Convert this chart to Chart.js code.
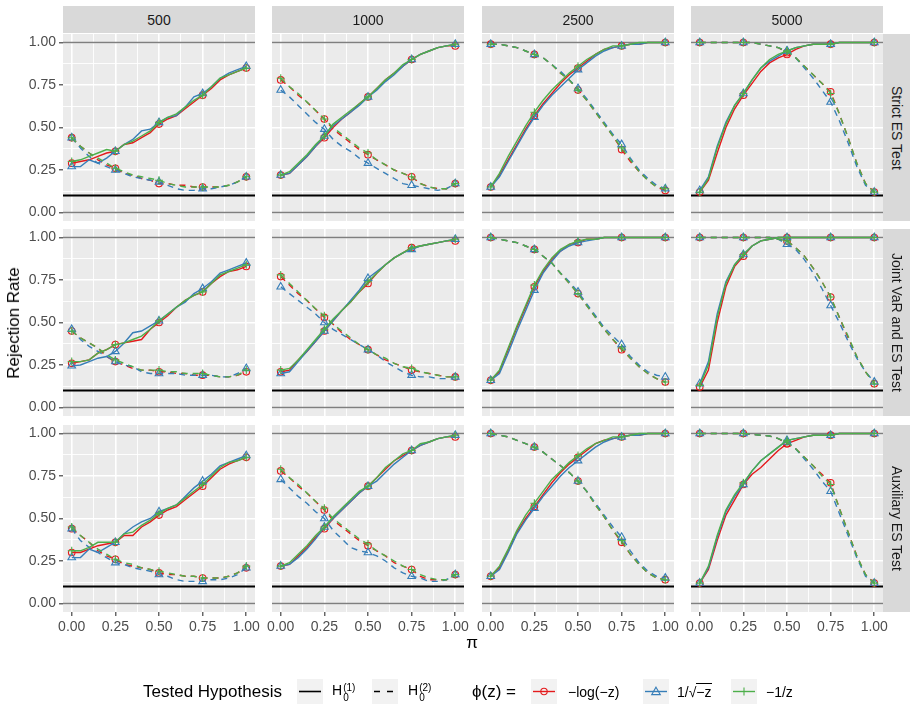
<!DOCTYPE html>
<html>
<head>
<meta charset="utf-8">
<script src="https://cdn.jsdelivr.net/npm/chart.js@4.4.1/dist/chart.umd.min.js"></script>
<style>
  body { margin: 0; background: #fff; font-family: "Liberation Sans", Arial, sans-serif; }
  #fig { position: relative; width: 916px; height: 710px; overflow: hidden; }
  #fig canvas { position: absolute; left: 0; top: 0; }
  .strip { position: absolute; background: #d9d9d9; color: #1a1a1a; font-size: 14px;
           display: flex; align-items: center; justify-content: center; }
  .vstrip { writing-mode: vertical-rl; }
  .lbl { position: absolute; white-space: nowrap; transform: translateY(-50%); }
  .key { position: absolute; top: 679px; width: 26px; height: 25px; background: #f2f2f2; }
  .ss { display: inline-flex; flex-direction: column; font-size: 10px; line-height: 10px;
        vertical-align: 4px; margin-left: 1px; }
</style>
</head>
<body>
<div id="fig"></div>
<script>
// pi grid of the simulation, markers only every 0.25
const piGrid = [0, 0.05, 0.1, 0.15, 0.2, 0.25, 0.3, 0.35, 0.4, 0.45, 0.5, 0.55, 0.6, 0.65, 0.7, 0.75, 0.8, 0.85, 0.9, 0.95, 1];
const markerPi = [0, 0.25, 0.5, 0.75, 1];
const gridTicks = [0, 0.125, 0.25, 0.375, 0.5, 0.625, 0.75, 0.875, 1];
const refLines = [0, 1];
const nominalLevel = [0.1];

const sampleSizes = ['500', '1000', '2500', '5000'];
const testNames = ['Strict ES Test', 'Joint VaR and ES Test', 'Auxiliary ES Test'];

// ---- Strict ES Test
const s500_h1_log  = [.29,.30,.31,.33,.35,.36,.40,.41,.44,.47,.52,.55,.57,.61,.65,.69,.73,.78,.81,.83,.85];
const s500_h1_sqrt = [.27,.27,.31,.29,.32,.36,.40,.43,.48,.49,.53,.56,.57,.62,.68,.70,.74,.79,.82,.84,.86];
const s500_h1_inv  = [.30,.31,.33,.35,.37,.36,.40,.42,.45,.48,.53,.56,.58,.62,.66,.69,.74,.79,.81,.83,.85];
const s500_h2_log  = [.44,.39,.35,.31,.28,.26,.23,.22,.20,.19,.17,.17,.16,.16,.15,.15,.15,.15,.16,.18,.21];
const s500_h2_sqrt = [.44,.38,.33,.29,.27,.25,.23,.21,.20,.19,.18,.16,.14,.13,.13,.14,.14,.15,.16,.18,.21];
const s500_h2_inv  = [.44,.39,.35,.32,.29,.26,.24,.22,.21,.20,.19,.17,.16,.15,.15,.15,.15,.15,.16,.18,.21];

const s1000_h1_log  = [.22,.23,.28,.33,.39,.44,.50,.55,.59,.64,.68,.73,.78,.82,.86,.90,.93,.95,.97,.98,.98];
const s1000_h1_sqrt = [.22,.23,.28,.33,.39,.45,.51,.55,.59,.63,.68,.72,.77,.81,.86,.90,.93,.95,.97,.98,.99];
const s1000_h1_inv  = [.22,.24,.29,.34,.40,.45,.52,.56,.60,.64,.68,.73,.78,.82,.87,.90,.93,.95,.97,.98,.99];
const s1000_h2_log  = [.78,.74,.69,.65,.60,.55,.49,.45,.41,.37,.34,.31,.28,.25,.23,.21,.17,.15,.14,.14,.17];
const s1000_h2_sqrt = [.72,.68,.63,.58,.53,.49,.43,.39,.36,.32,.29,.26,.23,.20,.17,.16,.15,.14,.13,.14,.17];
const s1000_h2_inv  = [.79,.74,.70,.65,.60,.55,.50,.46,.42,.38,.35,.31,.28,.25,.23,.21,.17,.15,.14,.14,.17];

const s2500_h1_log  = [.15,.22,.31,.40,.49,.57,.64,.70,.76,.81,.85,.89,.93,.96,.97,.98,.99,.99,1,1,1];
const s2500_h1_sqrt = [.15,.21,.30,.39,.48,.56,.63,.69,.74,.79,.84,.88,.92,.95,.97,.98,.99,.99,1,1,1];
const s2500_h1_inv  = [.15,.23,.33,.42,.51,.59,.66,.72,.77,.82,.86,.90,.93,.96,.98,.98,.99,1,1,1,1];
const s2500_h2_log  = [.99,.99,.98,.97,.95,.93,.91,.87,.82,.78,.72,.66,.59,.52,.45,.37,.30,.24,.19,.15,.13];
const s2500_h2_sqrt = [.99,.99,.98,.97,.95,.93,.91,.87,.83,.78,.73,.67,.60,.53,.46,.40,.32,.25,.20,.16,.14];
const s2500_h2_inv  = [.99,.99,.98,.97,.95,.93,.91,.87,.82,.78,.72,.66,.59,.52,.45,.38,.31,.24,.19,.15,.14];

const s5000_h1_log  = [.12,.19,.35,.50,.61,.69,.76,.83,.88,.91,.93,.96,.98,.99,.99,.99,1,1,1,1,1];
const s5000_h1_sqrt = [.13,.21,.39,.53,.63,.70,.78,.85,.89,.92,.95,.97,.98,.99,.99,.99,1,1,1,1,1];
const s5000_h1_inv  = [.12,.20,.38,.52,.63,.70,.78,.85,.90,.93,.95,.97,.98,.99,.99,.99,1,1,1,1,1];
const s5000_h2_log  = [1,1,1,1,1,1,1,.99,.98,.97,.94,.91,.86,.81,.76,.71,.58,.44,.29,.17,.12];
const s5000_h2_sqrt = [1,1,1,1,1,1,1,.99,.98,.97,.95,.91,.85,.79,.72,.65,.54,.41,.27,.16,.12];
const s5000_h2_inv  = [1,1,1,1,1,1,1,.99,.98,.97,.95,.91,.86,.81,.76,.70,.58,.44,.29,.17,.12];

// ---- Joint VaR and ES Test
const j500_h1_log  = [.26,.27,.28,.32,.34,.37,.38,.39,.40,.46,.50,.54,.59,.63,.66,.68,.73,.77,.80,.81,.83];
const j500_h1_sqrt = [.245,.25,.27,.29,.30,.33,.38,.44,.45,.48,.51,.55,.59,.62,.67,.70,.74,.79,.81,.83,.85];
const j500_h1_inv  = [.27,.27,.28,.32,.34,.37,.38,.40,.42,.46,.51,.55,.59,.63,.66,.68,.73,.78,.80,.82,.84];
const j500_h2_log  = [.45,.41,.38,.35,.30,.27,.25,.23,.22,.22,.21,.21,.20,.20,.19,.19,.19,.18,.18,.19,.21];
const j500_h2_sqrt = [.46,.40,.36,.33,.30,.27,.25,.24,.21,.20,.20,.20,.20,.19,.19,.19,.19,.18,.18,.20,.23];
const j500_h2_inv  = [.45,.41,.38,.35,.31,.28,.26,.24,.22,.22,.22,.21,.21,.20,.20,.20,.19,.18,.18,.19,.22];

const j1000_h1_log  = [.21,.22,.28,.33,.39,.45,.51,.57,.62,.68,.73,.79,.84,.88,.91,.94,.95,.96,.97,.98,.98];
const j1000_h1_sqrt = [.20,.21,.27,.33,.39,.45,.51,.57,.63,.69,.76,.80,.84,.88,.91,.93,.95,.96,.97,.98,.99];
const j1000_h1_inv  = [.22,.23,.28,.34,.40,.46,.52,.57,.62,.68,.74,.79,.84,.88,.91,.94,.95,.96,.97,.98,.99];
const j1000_h2_log  = [.77,.72,.67,.63,.58,.53,.49,.44,.40,.37,.34,.31,.28,.26,.24,.22,.21,.20,.19,.18,.18];
const j1000_h2_sqrt = [.71,.67,.63,.59,.55,.50,.46,.43,.40,.37,.34,.31,.27,.24,.21,.19,.18,.18,.17,.17,.18];
const j1000_h2_inv  = [.78,.73,.68,.63,.58,.54,.49,.45,.41,.37,.34,.31,.29,.26,.24,.23,.21,.20,.19,.18,.18];

const j2500_h1_log  = [.16,.21,.34,.47,.59,.71,.80,.87,.92,.96,.97,.99,.99,1,1,1,1,1,1,1,1];
const j2500_h1_sqrt = [.16,.20,.32,.45,.57,.69,.79,.86,.92,.95,.97,.98,.99,1,1,1,1,1,1,1,1];
const j2500_h1_inv  = [.16,.22,.35,.48,.60,.72,.81,.88,.93,.96,.98,.99,.99,1,1,1,1,1,1,1,1];
const j2500_h2_log  = [1,.99,.98,.97,.95,.93,.89,.85,.79,.73,.67,.60,.53,.46,.40,.34,.29,.24,.20,.17,.15];
const j2500_h2_sqrt = [1,.99,.98,.97,.95,.93,.89,.85,.79,.74,.68,.61,.54,.47,.42,.37,.30,.25,.21,.19,.18];
const j2500_h2_inv  = [1,.99,.98,.97,.95,.93,.89,.85,.79,.73,.67,.60,.53,.46,.40,.35,.29,.24,.20,.17,.15];

const j5000_h1_log  = [.12,.22,.50,.71,.83,.89,.95,.98,.99,1,1,1,1,1,1,1,1,1,1,1,1];
const j5000_h1_sqrt = [.14,.27,.55,.74,.84,.90,.95,.98,.99,1,1,1,1,1,1,1,1,1,1,1,1];
const j5000_h1_inv  = [.13,.25,.53,.73,.84,.90,.95,.98,.99,1,1,1,1,1,1,1,1,1,1,1,1];
const j5000_h2_log  = [1,1,1,1,1,1,1,1,1,.99,.98,.94,.89,.82,.74,.65,.53,.41,.30,.21,.14];
const j5000_h2_sqrt = [1,1,1,1,1,1,1,1,1,.99,.96,.93,.87,.79,.70,.60,.50,.39,.29,.21,.15];
const j5000_h2_inv  = [1,1,1,1,1,1,1,1,1,.99,.98,.94,.89,.82,.74,.65,.53,.42,.30,.21,.14];

// ---- Auxiliary ES Test
const a500_h1_log  = [.30,.30,.32,.34,.35,.36,.40,.40,.45,.48,.52,.55,.57,.61,.65,.69,.74,.79,.82,.84,.86];
const a500_h1_sqrt = [.27,.27,.32,.30,.33,.36,.41,.45,.48,.50,.54,.56,.58,.63,.68,.72,.76,.81,.83,.85,.87];
const a500_h1_inv  = [.31,.31,.33,.36,.36,.36,.41,.42,.46,.49,.53,.56,.58,.62,.66,.70,.75,.80,.83,.84,.86];
const a500_h2_log  = [.44,.40,.36,.31,.28,.26,.23,.22,.21,.20,.18,.17,.17,.16,.16,.15,.15,.15,.16,.18,.21];
const a500_h2_sqrt = [.44,.37,.33,.30,.27,.24,.23,.21,.20,.19,.17,.16,.14,.13,.13,.13,.14,.14,.15,.17,.21];
const a500_h2_inv  = [.45,.40,.36,.32,.29,.26,.24,.23,.21,.20,.19,.18,.17,.16,.16,.15,.15,.15,.16,.18,.22];

const a1000_h1_log  = [.22,.23,.28,.33,.39,.44,.50,.55,.60,.65,.69,.74,.79,.84,.87,.90,.93,.95,.97,.98,.98];
const a1000_h1_sqrt = [.22,.23,.27,.32,.38,.45,.50,.55,.60,.65,.69,.72,.77,.82,.86,.90,.93,.95,.97,.98,.99];
const a1000_h1_inv  = [.22,.24,.29,.34,.40,.45,.51,.56,.61,.66,.69,.74,.80,.84,.88,.90,.94,.95,.97,.98,.99];
const a1000_h2_log  = [.78,.74,.69,.65,.60,.55,.49,.45,.41,.37,.34,.31,.28,.24,.22,.20,.16,.14,.14,.14,.17];
const a1000_h2_sqrt = [.73,.68,.63,.59,.54,.50,.43,.38,.33,.31,.30,.28,.25,.21,.18,.16,.15,.13,.13,.14,.17];
const a1000_h2_inv  = [.79,.74,.70,.65,.60,.56,.50,.46,.42,.38,.35,.31,.28,.25,.22,.20,.17,.15,.14,.14,.17];

const a2500_h1_log  = [.16,.21,.31,.42,.50,.57,.64,.71,.77,.82,.86,.90,.94,.96,.97,.98,.99,.99,1,1,1];
const a2500_h1_sqrt = [.16,.20,.30,.41,.49,.56,.63,.69,.75,.80,.84,.88,.92,.95,.97,.98,.99,.99,1,1,1];
const a2500_h1_inv  = [.16,.22,.32,.43,.52,.59,.66,.73,.78,.83,.87,.91,.94,.96,.98,.98,.99,1,1,1,1];
const a2500_h2_log  = [1,.99,.98,.96,.94,.92,.89,.85,.81,.77,.72,.66,.58,.51,.43,.36,.29,.23,.18,.15,.14];
const a2500_h2_sqrt = [1,.99,.98,.96,.94,.92,.89,.85,.81,.77,.72,.66,.59,.52,.45,.39,.31,.24,.19,.16,.15];
const a2500_h2_inv  = [1,.99,.98,.96,.94,.92,.89,.85,.81,.77,.72,.66,.58,.51,.43,.37,.29,.23,.18,.15,.14];

const a5000_h1_log  = [.12,.20,.37,.52,.61,.70,.76,.80,.85,.90,.94,.96,.98,.99,.99,.99,1,1,1,1,1];
const a5000_h1_sqrt = [.12,.21,.39,.54,.63,.70,.78,.84,.88,.92,.96,.97,.98,.99,.99,.99,1,1,1,1,1];
const a5000_h1_inv  = [.12,.22,.40,.55,.64,.71,.78,.84,.88,.92,.96,.97,.98,.99,.99,.99,1,1,1,1,1];
const a5000_h2_log  = [1,1,1,1,1,1,.995,.99,.985,.97,.94,.91,.86,.81,.76,.71,.56,.42,.28,.17,.12];
const a5000_h2_sqrt = [1,1,1,1,1,1,.995,.99,.985,.97,.95,.91,.85,.79,.72,.66,.53,.40,.27,.16,.12];
const a5000_h2_inv  = [1,1,1,1,1,1,.995,.99,.985,.97,.95,.91,.86,.81,.75,.70,.56,.42,.28,.17,.12];

// rows = tests, cols = sample size
const panelSeries = [
  [
    {h1: [s500_h1_log, s500_h1_sqrt, s500_h1_inv], h2: [s500_h2_log, s500_h2_sqrt, s500_h2_inv]},
    {h1: [s1000_h1_log, s1000_h1_sqrt, s1000_h1_inv], h2: [s1000_h2_log, s1000_h2_sqrt, s1000_h2_inv]},
    {h1: [s2500_h1_log, s2500_h1_sqrt, s2500_h1_inv], h2: [s2500_h2_log, s2500_h2_sqrt, s2500_h2_inv]},
    {h1: [s5000_h1_log, s5000_h1_sqrt, s5000_h1_inv], h2: [s5000_h2_log, s5000_h2_sqrt, s5000_h2_inv]}
  ],
  [
    {h1: [j500_h1_log, j500_h1_sqrt, j500_h1_inv], h2: [j500_h2_log, j500_h2_sqrt, j500_h2_inv]},
    {h1: [j1000_h1_log, j1000_h1_sqrt, j1000_h1_inv], h2: [j1000_h2_log, j1000_h2_sqrt, j1000_h2_inv]},
    {h1: [j2500_h1_log, j2500_h1_sqrt, j2500_h1_inv], h2: [j2500_h2_log, j2500_h2_sqrt, j2500_h2_inv]},
    {h1: [j5000_h1_log, j5000_h1_sqrt, j5000_h1_inv], h2: [j5000_h2_log, j5000_h2_sqrt, j5000_h2_inv]}
  ],
  [
    {h1: [a500_h1_log, a500_h1_sqrt, a500_h1_inv], h2: [a500_h2_log, a500_h2_sqrt, a500_h2_inv]},
    {h1: [a1000_h1_log, a1000_h1_sqrt, a1000_h1_inv], h2: [a1000_h2_log, a1000_h2_sqrt, a1000_h2_inv]},
    {h1: [a2500_h1_log, a2500_h1_sqrt, a2500_h1_inv], h2: [a2500_h2_log, a2500_h2_sqrt, a2500_h2_inv]},
    {h1: [a5000_h1_log, a5000_h1_sqrt, a5000_h1_inv], h2: [a5000_h2_log, a5000_h2_sqrt, a5000_h2_inv]}
  ]
];

// styling
const phiColors = ['#E41A1C', '#377EB8', '#4DAF4A'];
const phiShapes = ['circle', 'triangle', 'cross'];
const phiRadius = [3.3, 4.4, 4];
const FONT = '"Liberation Sans", Arial, sans-serif';
const W = 916, H = 710;
const colX = [63, 272, 482, 691];
const rowY = [34, 229, 425];
const panelW = 192, panelH = 187;
const yAxisW = 60, xAxisH = 30;   // room kept for tick labels on outer panels

const fig = document.getElementById('fig');

const isMajor = v => Math.abs(v * 4 - Math.round(v * 4)) < 1e-6;

const panelBg = {
  id: 'panelBg',
  beforeDraw(chart) {
    const a = chart.chartArea;
    const ctx = chart.ctx;
    ctx.save();
    ctx.fillStyle = '#ebebeb';
    ctx.fillRect(a.left, a.top, a.right - a.left, a.bottom - a.top);
    ctx.restore();
  }
};

function axis(showLabels) {
  return {
    type: 'linear',
    min: -0.05,
    max: 1.05,
    bounds: 'data',
    afterBuildTicks: s => { s.ticks = gridTicks.map(v => ({value: v})); },
    grid: {
      color: '#ffffff',
      lineWidth: ctx => (ctx.tick && isMajor(ctx.tick.value)) ? 1.6 : 0.9,
      drawTicks: true,
      tickLength: 4,
      tickWidth: 1.1,
      tickColor: ctx => (showLabels && ctx.tick && isMajor(ctx.tick.value)) ? '#333333' : 'rgba(0,0,0,0)'
    },
    border: {display: false},
    ticks: {
      display: showLabels,
      autoSkip: false,
      maxRotation: 0,
      padding: 3,
      color: '#4d4d4d',
      font: {family: FONT, size: 14},
      callback: v => isMajor(v) ? v.toFixed(2) : ''
    }
  };
}

function hline(y, color, width, order) {
  return {
    data: [{x: -0.05, y: y}, {x: 1.05, y: y}],
    borderColor: color,
    borderWidth: width,
    pointRadius: 0,
    order: order
  };
}

for (let r = 0; r < testNames.length; r++) {
  for (let c = 0; c < sampleSizes.length; c++) {
    const canvas = document.createElement('canvas');
    canvas.width = W;
    canvas.height = H;
    fig.appendChild(canvas);

    const datasets = [];
    refLines.forEach(v => datasets.push(hline(v, '#7f7f7f', 1.5, 20)));
    nominalLevel.forEach(v => datasets.push(hline(v, '#000000', 1.8, 19)));

    const ser = panelSeries[r][c];
    ['h1', 'h2'].forEach(h => {
      ser[h].forEach((vals, k) => {
        datasets.push({
          data: piGrid.map((p, i) => ({x: p, y: vals[i]})),
          borderColor: phiColors[k],
          borderWidth: 1.4,
          borderDash: h === 'h2' ? [6, 5] : [],
          tension: 0,
          pointStyle: phiShapes[k],
          pointRadius: ctx => markerPi.includes(piGrid[ctx.dataIndex]) ? phiRadius[k] : 0,
          pointBorderColor: phiColors[k],
          pointBackgroundColor: 'rgba(0,0,0,0)',
          pointBorderWidth: 1.1,
          order: 3 - k
        });
      });
    });

    const showX = r === testNames.length - 1;
    const showY = c === 0;
    const xh = showX ? xAxisH : 0;
    const yw = showY ? yAxisW : 0;
    const xAxis = axis(showX);
    xAxis.afterFit = s => { s.height = xh; s.paddingLeft = 0; s.paddingRight = 0; s.paddingTop = 0; s.paddingBottom = 0; };
    const yAxis = axis(showY);
    yAxis.afterFit = s => { s.width = yw; s.paddingLeft = 0; s.paddingRight = 0; s.paddingTop = 0; s.paddingBottom = 0; };

    new Chart(canvas, {
      type: 'line',
      data: {datasets: datasets},
      options: {
        responsive: false,
        animation: false,
        events: [],
        layout: {padding: {
          left: colX[c] - yw,
          top: rowY[r],
          right: W - colX[c] - panelW,
          bottom: H - rowY[r] - panelH - xh
        }},
        plugins: {legend: {display: false}, tooltip: {enabled: false}},
        scales: {x: xAxis, y: yAxis}
      },
      plugins: [panelBg]
    });
  }
}

// facet strips
sampleSizes.forEach((s, c) => {
  const d = document.createElement('div');
  d.className = 'strip';
  d.style.cssText = `left:${colX[c]}px;top:6px;width:${panelW}px;height:27px;`;
  d.textContent = s;
  fig.appendChild(d);
});
testNames.forEach((t, r) => {
  const d = document.createElement('div');
  d.className = 'strip vstrip';
  d.style.cssText = `left:883px;top:${rowY[r]}px;width:27px;height:${panelH}px;`;
  d.textContent = t;
  fig.appendChild(d);
});

// axis titles + legend
fig.insertAdjacentHTML('beforeend', `
  <div style="position:absolute;left:14px;top:323px;transform:translate(-50%,-50%) rotate(-90deg);font-size:17px;color:#000;white-space:nowrap;">Rejection Rate</div>
  <div style="position:absolute;left:472px;top:643px;transform:translate(-50%,-50%);font-size:17px;color:#000;">π</div>

  <div class="lbl" style="left:143px;top:692px;font-size:17px;">Tested Hypothesis</div>
  <div class="key" style="left:297px;"><svg width="26" height="25"><line x1="2" y1="12.5" x2="24" y2="12.5" stroke="#000" stroke-width="1.6"/></svg></div>
  <div class="lbl" style="left:332px;top:692px;font-size:14px;">H<span class="ss"><span>(1)</span><span>0</span></span></div>
  <div class="key" style="left:372px;"><svg width="26" height="25"><line x1="2" y1="12.5" x2="24" y2="12.5" stroke="#000" stroke-width="1.6" stroke-dasharray="6,7"/></svg></div>
  <div class="lbl" style="left:408px;top:692px;font-size:14px;">H<span class="ss"><span>(2)</span><span>0</span></span></div>

  <div class="lbl" style="left:472px;top:692px;font-size:17px;">ϕ(z) =</div>
  <div class="key" style="left:531px;"><svg width="26" height="25"><line x1="2" y1="12.5" x2="24" y2="12.5" stroke="#E41A1C" stroke-width="1.4"/><circle cx="13" cy="12.5" r="3.2" fill="none" stroke="#E41A1C" stroke-width="1.1"/></svg></div>
  <div class="lbl" style="left:568px;top:692px;font-size:14px;">−log(−z)</div>
  <div class="key" style="left:643px;"><svg width="26" height="25"><line x1="2" y1="12.5" x2="24" y2="12.5" stroke="#377EB8" stroke-width="1.4"/><polygon points="13,8.2 17.3,15.6 8.7,15.6" fill="none" stroke="#377EB8" stroke-width="1.1"/></svg></div>
  <div class="lbl" style="left:677px;top:692px;font-size:14px;">1/√<span style="border-top:1px solid #000;">−z</span></div>
  <div class="key" style="left:731px;"><svg width="26" height="25"><line x1="2" y1="12.5" x2="24" y2="12.5" stroke="#4DAF4A" stroke-width="1.4"/><line x1="13" y1="8.5" x2="13" y2="16.5" stroke="#4DAF4A" stroke-width="1.1"/></svg></div>
  <div class="lbl" style="left:766px;top:692px;font-size:14px;">−1/z</div>
`);
</script>
</body>
</html>
